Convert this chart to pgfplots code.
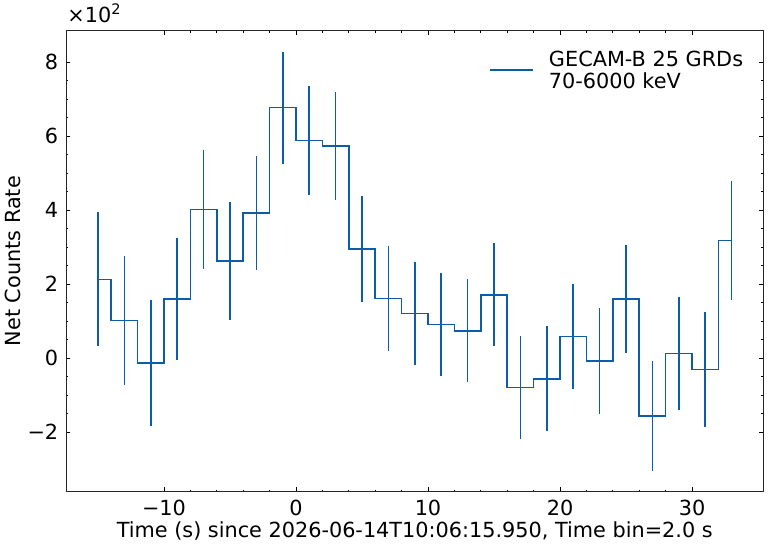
\documentclass[border=0pt]{standalone}
\usepackage{pgfplots}
\pgfplotsset{compat=1.18}
\usepackage{pgfplotstable}
\usepackage{fontspec}
\setmainfont{DejaVu Sans}
\definecolor{sciblue}{HTML}{0C5DA5}
\pgfplotstableread{
x y e
-15 213 181
-13 102 175
-11 -13 171
-9 160 165
-7 402 161
-5 262 159
-3 392 153
-1 677 151
1 588 148
3 573 146
5 295 144
7 161 142
9 121 140
11 91 140
13 74 139
15 171 139
17 -79 140
19 -56 142
21 59 142
23 -8 144
25 160 146
27 -156 149
29 13 153
31 -31 156
33 318 160
}\datatable
\begin{document}
\fontsize{20.8}{22}\selectfont
\begin{tikzpicture}
\begin{axis}[
  scale only axis,
  width=697pt, height=461pt,
  xmin=-17.4, xmax=35.4,
  ymin=-361, ymax=885,
  xtick={-10,0,10,20,30},
  xticklabels={−10,0,10,20,30},
  ytick={-200,0,200,400,600,800},
  yticklabels={−2,0,2,4,6,8},
  minor x tick num=4,
  minor y tick num=3,
  tick align=inside,
  xtick pos=both, ytick pos=both,
  major tick length=4.2pt,
  minor tick length=2.1pt,
  every tick/.style={black, line width=0.7pt},
  axis line style={line width=0.8pt, black!85},
  tick label style={font=\fontsize{20.8}{22}\selectfont},
  xticklabel style={yshift=-1pt},
  yticklabel style={xshift=-1pt},
  every axis x label/.style={at={(rel axis cs:0.5,0)}, anchor=center, yshift=-39.5pt},
  every axis y label/.style={at={([xshift=-53.3pt]rel axis cs:0,0.5)}, anchor=center, rotate=90},
  xlabel={Time (s) since 2026-06-14T10:06:15.950, Time bin=2.0 s},
  ylabel={Net Counts Rate},
  label style={font=\fontsize{20.8}{22}\selectfont},
  legend style={at={(rel axis cs:1,1)}, anchor=north east, draw=none, fill=none,
    xshift=-16pt, yshift=-17pt, font=\fontsize{20.8}{22}\selectfont,
    nodes={inner sep=1pt}},
  legend cell align=left,
  legend image code/.code={\draw[#1] (0pt,-10pt) -- (43pt,-10pt);},
  clip=false,
]
\addplot[sciblue, line width=1.5pt, const plot mark mid, mark=none,
  error bars/.cd, y dir=both, y explicit, error mark=none,
  error bar style={sciblue, line width=1.5pt}]
  table[x=x, y=y, y error=e] {\datatable};
\addlegendentry{\hspace{14pt}\begin{tabular}[t]{@{}l@{}}GECAM-B 25 GRDs\\70-6000 keV\end{tabular}}
\coordinate (ll) at (rel axis cs:0,0);
\coordinate (ur) at (rel axis cs:1,1);
\node[anchor=south west, inner sep=0pt] at ([xshift=1pt, yshift=8pt]rel axis cs:0,1) {×10\textsuperscript{2}};
\end{axis}
\pgfresetboundingbox
\path ([shift={(-66.3pt,-55.3pt)}]ll) rectangle ([shift={(4.7pt,30.7pt)}]ur);
\end{tikzpicture}
\end{document}
